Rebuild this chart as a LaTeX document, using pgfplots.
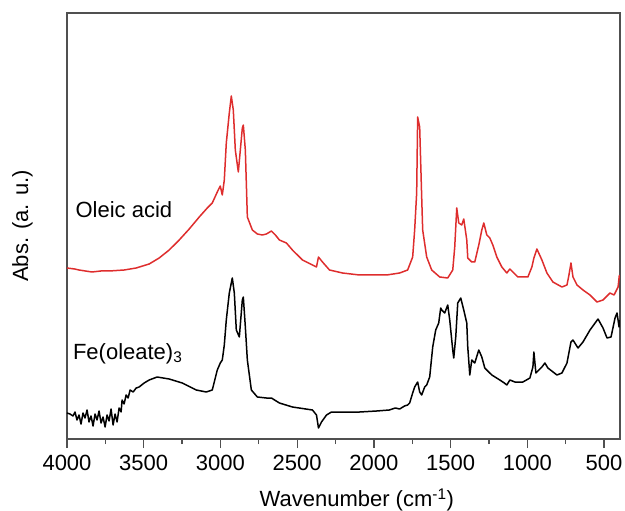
\documentclass[border=0pt]{standalone}
\usepackage{pgfplots}
\pgfplotsset{compat=1.18}
\usepackage{fontspec}
\setmainfont{Liberation Sans}
\definecolor{oleic}{RGB}{222,45,45}
\definecolor{axgray}{RGB}{80,80,80}
\begin{document}
\fontsize{22bp}{26bp}\selectfont
\begin{tikzpicture}
\begin{axis}[
  at={(0,0)}, anchor=south west,
  width=553bp, height=426bp, scale only axis=true,
  x dir=reverse,
  xmin=396, xmax=4000,
  ymin=0, ymax=426,
  xtick={500,1000,1500,2000,2500,3000,3500,4000},
  minor x tick num=1,
  ytick=\empty,
  xtick pos=bottom,
  tick align=outside,
  major tick length=9bp,
  minor tick length=5bp,
  axis line style={axgray, line width=1.3bp},
  every tick/.style={axgray, line width=1.3bp},
  /pgf/number format/assume math mode=true,
  xticklabel style={font=\fontsize{22bp}{26bp}\selectfont, /pgf/number format/1000 sep={}},
  scaled x ticks=false,
  xlabel={Wavenumber (cm\textsuperscript{-1})},
  ylabel={Abs. (a. u.)},
  xlabel style={at={(axis description cs:0.524,-0.1596)}, anchor=base, font=\fontsize{22bp}{26bp}\selectfont},
  ylabel style={at={(axis description cs:-0.0805,0.5)}, anchor=center, font=\fontsize{22bp}{26bp}\selectfont},
  clip=true,
]
% Oleic acid (red)
\addplot[oleic, line width=1.5bp, line join=round] coordinates {
(4000,171)(3950,170)(3921.6,169)(3880,168)(3836.8,167)(3780,168)(3725.7,168)(3627.8,169)(3549.4,171)
(3464.6,175)(3399.3,181)(3334,189)(3268.7,199)(3203.4,210)(3138.1,222)(3085.8,231)
(3053.2,236)(3020.5,247)(3007.5,251)(3001,253)(2987.9,244)(2974.8,259)(2961.8,296)
(2942.2,326)(2929.1,343)(2916.1,329)(2903,289)(2883.4,267)(2870.3,289)(2857.3,311)
(2850.8,314)(2837.7,289)(2824.6,222)(2792,209)(2759.3,205)(2726.7,204)(2700.6,205)
(2667.9,208)(2641.8,204)(2615.7,199)(2570,196)(2530.8,189)(2465.5,179)(2374.1,172)
(2361,182)(2334.9,177)(2289.2,169)(2204.3,166)(2093.3,164)(1917,164)(1832.1,166)
(1779.9,169)(1747.2,182)(1734.2,209)(1721.1,246)(1714.6,322)(1701.5,312)(1688.4,242)
(1681.9,209)(1655.8,182)(1623.2,169)(1570.9,162)(1518.7,161)(1486,169)(1473,192)
(1459.9,231)(1446.8,216)(1427.3,214)(1414.2,220)(1394.6,199)(1388.1,181)(1362,177)
(1342.4,177)(1316.3,194)(1296.7,209)(1283.6,216)(1264,204)(1244.4,201)(1224.8,194)
(1198.7,182)(1166.1,172)(1133.4,166)(1113.8,170)(1094.3,167)(1061.6,162)(996.3,162)
(970.2,172)(957.2,181)(937.6,190)(904.9,179)(872.3,166)(833.1,157)(774.3,152)
(741.6,154)(728.6,164)(715.5,176)(702.4,162)(676.3,154)(637.2,149)(591.5,144)
(545.8,137)(506.6,139)(460.9,146)(434.8,144)(408.6,152)(400,164)
};
% Fe(oleate)3 (black)
\addplot[black, line width=1.5bp, line join=round] coordinates {
(4000,26)(3980.4,25)(3960.8,23)(3947.8,27)(3934.7,19)(3921.6,24)(3908.6,15)(3895.5,26)
(3882.5,21)(3869.4,29)(3856.3,17)(3843.3,23)(3830.2,13)(3817.1,25)(3804.1,19)(3791,28)
(3778,16)(3764.9,22)(3751.8,12)(3738.8,24)(3725.7,18)(3712.7,30)(3699.6,14)(3686.5,25)
(3673.5,17)(3660.4,31)(3647.4,27)(3640.9,39)(3627.8,35)(3614.7,44)(3601.7,41)(3588.6,49)
(3569,47)(3549.4,51)(3529.9,52)(3497.2,56)(3464.6,59)(3412.3,62)(3334,60)(3249.1,56)
(3157.7,49)(3092.4,47)(3053.2,49)(3020.5,69)(3000.9,76)(2987.9,79)(2974.8,94)(2961.8,119)
(2942.2,146)(2922.6,161)(2909.5,146)(2896.5,109)(2876.9,102)(2857.3,139)(2850.8,142)
(2837.7,112)(2824.6,79)(2798.5,49)(2759.3,42)(2700.6,41)(2667.9,41)(2615.7,36)
(2530.8,32)(2400.2,29)(2374.1,24)(2361,11)(2341.4,17)(2308.8,24)(2276.1,27)(2093.3,27)
(1982.3,28)(1900,29)(1860,31)(1832.1,30)(1800,33)(1779.9,34)(1766.8,36)(1747.2,46)(1734.2,52)(1714.6,57)(1701.5,47)
(1688.4,44)(1668.9,52)(1655.8,54)(1636.2,62)(1616.6,92)(1597,109)(1577.4,116)(1564.4,131)
(1557.9,129)(1538.3,126)(1518.7,134)(1505.6,119)(1486,89)(1479.5,81)(1466.4,102)
(1453.4,136)(1433.8,141)(1414.2,129)(1394.6,116)(1388.1,92)(1375,64)(1362,79)(1342.4,76)
(1316.3,89)(1296.7,82)(1277.1,71)(1231.4,64)(1179.2,59)(1150,56)(1133.4,54)(1113.8,59)(1081.2,57)
(1028.9,57)(983.2,61)(963.6,72)(957.2,87)(944.1,66)(904.9,72)(885.4,76)(865.8,71)
(807,64)(774.3,66)(741.6,76)(715.5,97)(702.4,99)(669.8,91)(637.2,97)(591.5,109)
(539.3,120)(506.6,111)(480.5,101)(454.4,102)(428.3,121)(415.2,126)(402.1,112)(400,119)
};
\node[anchor=base west, inner sep=0pt] at (axis cs:3945,221) {Oleic acid};
\node[anchor=base west, inner sep=0pt] at (axis cs:3962,80) {Fe(oleate)\textsubscript{3}};
\end{axis}
\pgfresetboundingbox
\path[use as bounding box] (-67bp,-72bp) rectangle (558bp,439bp);
\end{tikzpicture}
\end{document}
